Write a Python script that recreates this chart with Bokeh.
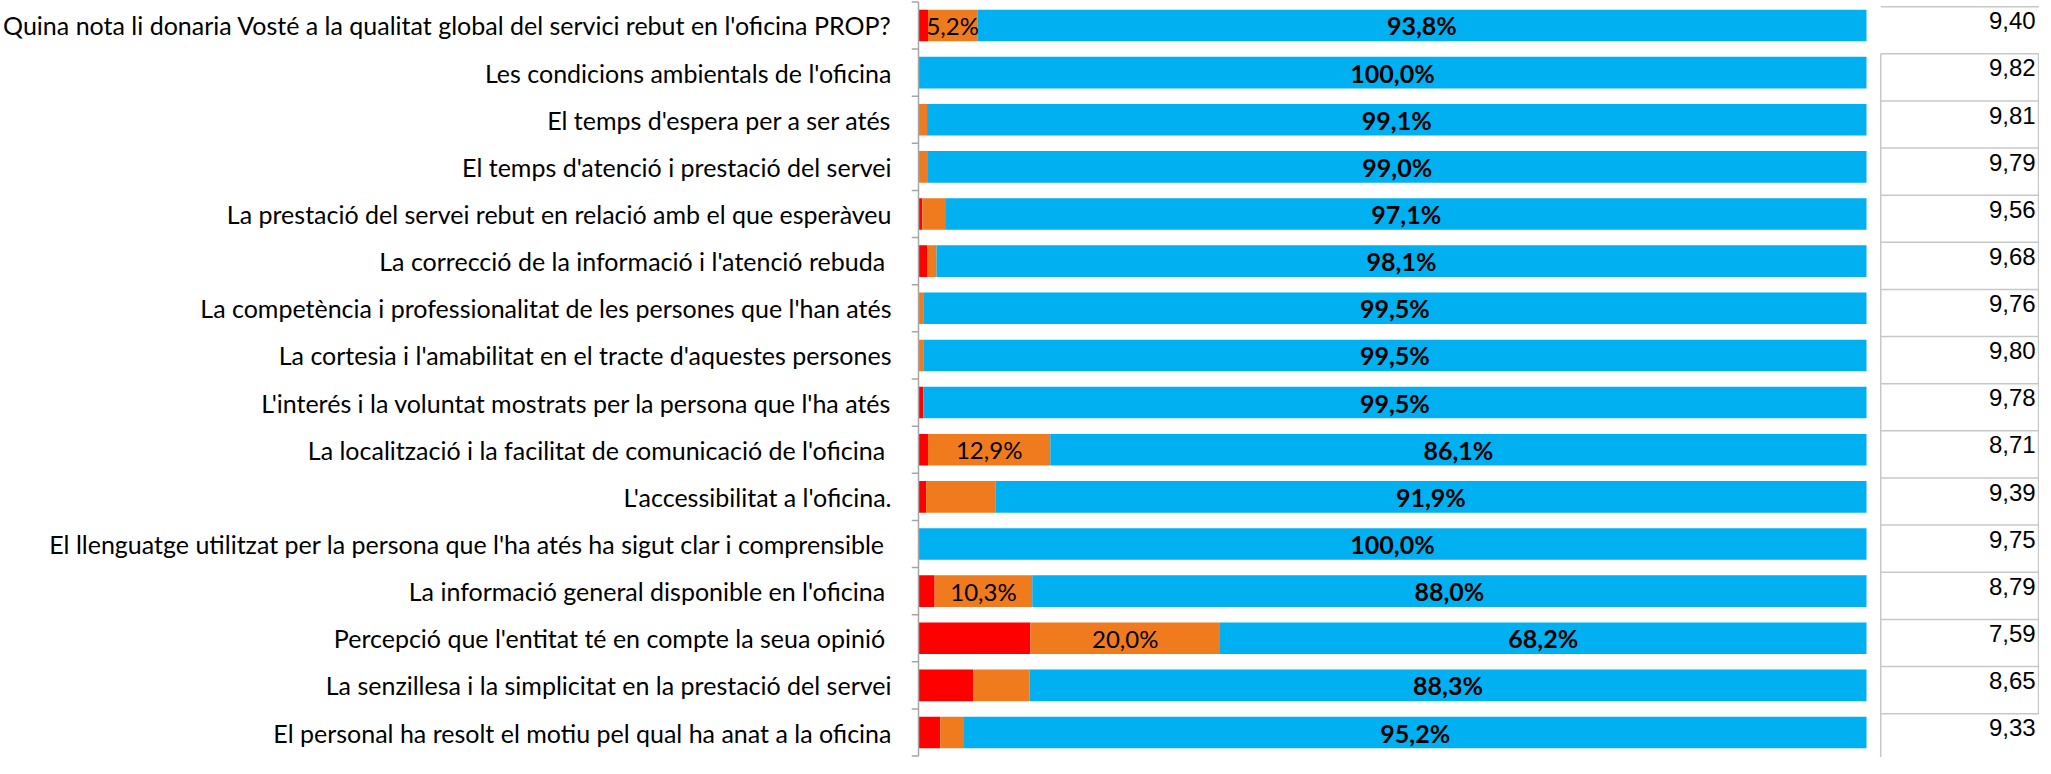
from bokeh.plotting import figure
from bokeh.models import FactorRange, Range1d, ColumnDataSource
from bokeh.core.properties import value
from bokeh.embed import file_html
from bokeh.resources import INLINE

# ---------------- data ----------------
categories = [
    "Quina nota li donaria Vosté a la qualitat global del servici rebut en l'oficina PROP?",
    "Les condicions ambientals de l'oficina",
    "El temps d'espera per a ser atés",
    "El temps d'atenció i prestació del servei",
    "La prestació del servei rebut en relació amb el que esperàveu",
    "La correcció de la informació i l'atenció rebuda ",
    "La competència i professionalitat de les persones que l'han atés",
    "La cortesia i l'amabilitat en el tracte d'aquestes persones",
    "L'interés i la voluntat mostrats per la persona que l'ha atés",
    "La localització i la facilitat de comunicació de l'oficina ",
    "L'accessibilitat a l'oficina.",
    "El llenguatge utilitzat per la persona que l'ha atés ha sigut clar i comprensible ",
    "La informació general disponible en l'oficina ",
    "Percepció que l'entitat té en compte la seua opinió ",
    "La senzillesa i la simplicitat en la prestació del servei",
    "El personal ha resolt el motiu pel qual ha anat a la oficina",
]
red = [1.0, 0.0, 0.0, 0.0, 0.4, 0.9, 0.0, 0.0, 0.5, 1.0, 0.8, 0.0, 1.7, 11.8, 5.8, 2.3]
orange = [5.2, 0.0, 0.9, 1.0, 2.5, 1.0, 0.5, 0.5, 0.0, 12.9, 7.3, 0.0, 10.3, 20.0, 5.9, 2.5]
blue = [93.8, 100.0, 99.1, 99.0, 97.1, 98.1, 99.5, 99.5, 99.5, 86.1, 91.9, 100.0, 88.0, 68.2, 88.3, 95.2]
orange_labelled = [True, False, False, False, False, False, False, False, False,
                   True, False, False, True, True, False, False]
scores = [9.40, 9.82, 9.81, 9.79, 9.56, 9.68, 9.76, 9.80, 9.78, 8.71, 9.39, 9.75, 8.79, 7.59, 8.65, 9.33]

# ---------------- styles ----------------
C_RED = "#FF0000"
C_ORANGE = "#F07A1E"
C_BLUE = "#00B0F0"
C_AXIS = "#A6A6A6"
C_GRID = "#C8C8C8"
LABEL_FONT = "Lato"
TABLE_FONT = "Liberation Sans"


def pct(v):
    return f"{v:.1f}%".replace(".", ",")


n = len(categories)
r_end = [r for r in red]
o_end = [r + o for r, o in zip(red, orange)]
b_end = [r + o + b for r, o, b in zip(red, orange, blue)]

src = ColumnDataSource(dict(
    cat=categories,
    r0=[0.0] * n, r1=r_end,
    o0=r_end, o1=o_end,
    b0=o_end, b1=b_end,
    bmid=[(a + b) / 2 for a, b in zip(o_end, b_end)],
    omid=[(a + b) / 2 for a, b in zip(r_end, o_end)],
    btxt=[pct(v) for v in blue],
    otxt=[pct(v) if s else "" for v, s in zip(orange, orange_labelled)],
))

FRAME_W = 1128
X0 = -0.74
X1 = X0 + FRAME_W / 9.48
TABLE_L = 101.5

p = figure(
    y_range=FactorRange(factors=categories[::-1], range_padding=0.03,
                        range_padding_units="absolute"),
    x_range=Range1d(X0, X1),
    frame_width=FRAME_W, frame_height=757,
    output_backend="svg", toolbar_location=None,
    x_axis_location=None,
    min_border_left=0, min_border_right=0, min_border_top=0, min_border_bottom=0,
    outline_line_color=None,
)
p.grid.visible = False

H = 0.67
p.hbar(y="cat", left="r0", right="r1", height=H, source=src, color=C_RED, line_color=None)
p.hbar(y="cat", left="o0", right="o1", height=H, source=src, color=C_ORANGE, line_color=None)
p.hbar(y="cat", left="b0", right="b1", height=H, source=src, color=C_BLUE, line_color=None)

p.text(x="bmid", y="cat", text="btxt", source=src, text_align="center", text_baseline="middle",
       text_font=value(LABEL_FONT), text_font_style="bold", text_font_size="25px", text_color="black")
p.text(x="omid", y="cat", text="otxt", source=src, text_align="center", text_baseline="middle",
       text_font=value(LABEL_FONT), text_font_size="24px", text_color="black")

# category axis (ticks drawn between categories below)
ax = p.yaxis[0]
ax.axis_line_color = None
ax.major_tick_line_color = None
ax.major_tick_out = 0
ax.major_tick_in = 0
ax.major_label_standoff = 20
ax.major_label_text_font = LABEL_FONT
ax.major_label_text_font_size = "25px"
ax.major_label_text_color = "black"

# axis line and boundary ticks (synthetic category coordinates 0..n)
bounds = list(range(n + 1))
p.segment(x0=[0], x1=[0], y0=[0], y1=[n], line_color=C_AXIS, line_width=1.5)
p.segment(x0=[X0] * (n + 1), x1=[0] * (n + 1), y0=bounds, y1=bounds,
          line_color=C_AXIS, line_width=1.5)

# score table on the right
row_tops = [n - i - 0.1 for i in range(n)]
p.segment(x0=[TABLE_L] * n, x1=[X1 - 0.05] * n, y0=row_tops, y1=row_tops,
          line_color=C_GRID, line_width=1.5)
p.segment(x0=[TABLE_L], x1=[TABLE_L], y0=[row_tops[1]], y1=[-1],
          line_color=C_GRID, line_width=1.5)
p.segment(x0=[X1 - 0.1], x1=[X1 - 0.1], y0=[row_tops[1]], y1=[row_tops[n - 1]],
          line_color=C_GRID, line_width=1.5)
p.text(x=[X1 - 0.4] * n, y=[n - i - 0.5 + 0.1 for i in range(n)],
       text=[f"{s:.2f}".replace(".", ",") for s in scores],
       text_align="right", text_baseline="middle",
       text_font=value(TABLE_FONT), text_font_size="24px", text_color="black")

open("out.html", "w").write(file_html(p, INLINE))
